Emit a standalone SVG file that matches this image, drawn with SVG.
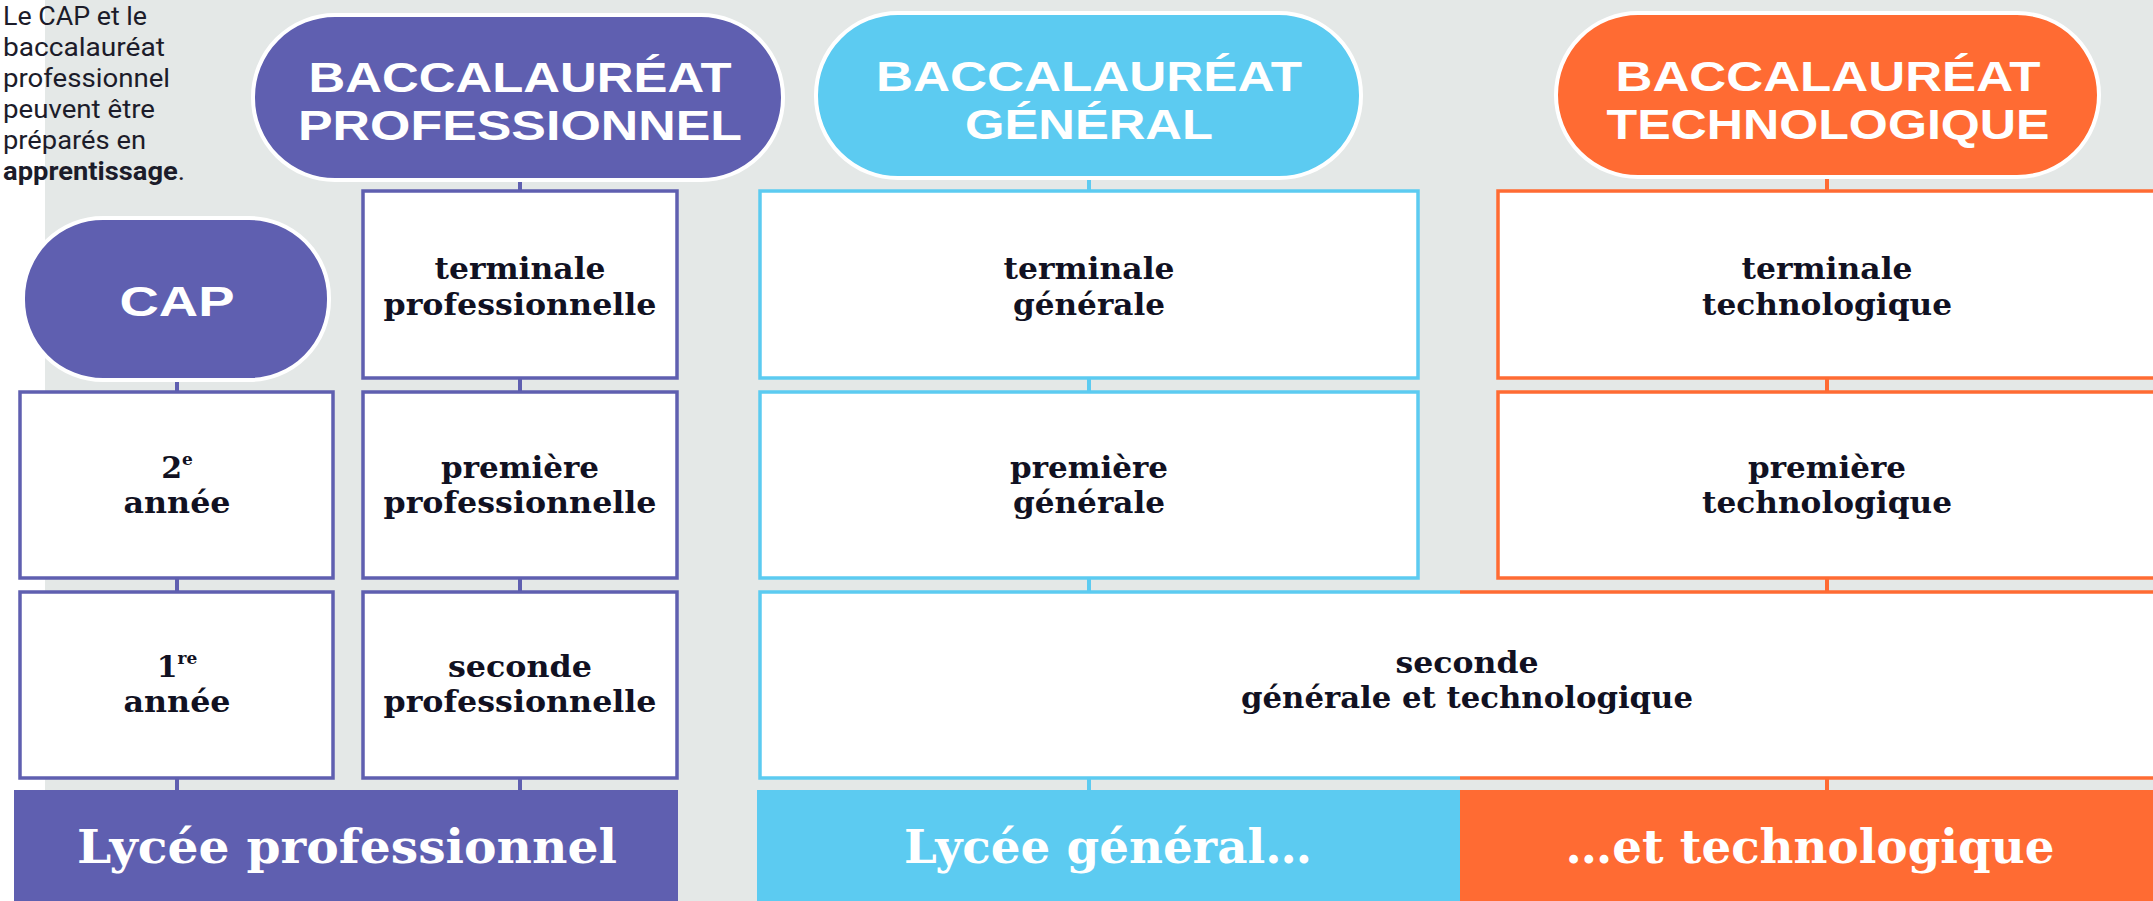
<svg xmlns="http://www.w3.org/2000/svg" width="2153" height="901" viewBox="0 0 2153 901">
<style>
.pill-t{font-family:"Liberation Sans",Arial,sans-serif;font-weight:bold;font-size:42px;fill:#ffffff;text-anchor:middle}
.box-t{font-family:"DejaVu Serif",serif;font-weight:bold;font-size:30px;fill:#111122;text-anchor:middle}
.bar-t{font-family:"DejaVu Serif",serif;font-weight:bold;font-size:46px;fill:#ffffff;text-anchor:middle}
.note{font-family:Roboto,"Liberation Sans",sans-serif;font-size:26px;fill:#1c1c2a}
.box{fill:#ffffff;stroke-width:3.5}
.pu{stroke:#5f5fb0}
.bl{stroke:#5ccbf1}
.or{stroke:#ff6b33}
.pill{stroke:#ffffff;stroke-width:4}
.con line{stroke-width:4}
</style>
<rect x="0" y="0" width="2153" height="901" fill="#ffffff"/>
<rect x="45" y="0" width="2108" height="901" fill="#e4e8e7"/>

<g id="note">
<text class="note" x="3" y="25" textLength="144" lengthAdjust="spacingAndGlyphs">Le CAP et le</text>
<text class="note" x="3" y="56" textLength="162" lengthAdjust="spacingAndGlyphs">baccalauréat</text>
<text class="note" x="3" y="87" textLength="167" lengthAdjust="spacingAndGlyphs">professionnel</text>
<text class="note" x="3" y="118" textLength="152" lengthAdjust="spacingAndGlyphs">peuvent être</text>
<text class="note" x="3" y="149" textLength="143" lengthAdjust="spacingAndGlyphs">préparés en</text>
<text class="note" x="3" y="180" textLength="182" lengthAdjust="spacingAndGlyphs"><tspan font-weight="bold">apprentissage</tspan>.</text>
</g>

<g id="connectors" class="con">
<line x1="177" y1="380" x2="177" y2="392" stroke="#5f5fb0"/>
<line x1="177" y1="578" x2="177" y2="592" stroke="#5f5fb0"/>
<line x1="177" y1="778" x2="177" y2="790" stroke="#5f5fb0"/>
<line x1="520" y1="180" x2="520" y2="191" stroke="#5f5fb0"/>
<line x1="520" y1="378" x2="520" y2="392" stroke="#5f5fb0"/>
<line x1="520" y1="578" x2="520" y2="592" stroke="#5f5fb0"/>
<line x1="520" y1="778" x2="520" y2="790" stroke="#5f5fb0"/>
<line x1="1089" y1="178" x2="1089" y2="191" stroke="#5ccbf1"/>
<line x1="1089" y1="378" x2="1089" y2="392" stroke="#5ccbf1"/>
<line x1="1089" y1="578" x2="1089" y2="592" stroke="#5ccbf1"/>
<line x1="1089" y1="778" x2="1089" y2="790" stroke="#5ccbf1"/>
<line x1="1827" y1="177" x2="1827" y2="191" stroke="#ff6b33"/>
<line x1="1827" y1="378" x2="1827" y2="392" stroke="#ff6b33"/>
<line x1="1827" y1="578" x2="1827" y2="592" stroke="#ff6b33"/>
<line x1="1827" y1="778" x2="1827" y2="790" stroke="#ff6b33"/>
</g>

<g id="bac-pro">
<rect class="pill" x="253" y="15" width="530" height="165" rx="82" fill="#5f5fb0"/>
<text class="pill-t" x="520" y="92" textLength="423" lengthAdjust="spacingAndGlyphs">BACCALAURÉAT</text>
<text class="pill-t" x="520" y="140" textLength="444" lengthAdjust="spacingAndGlyphs">PROFESSIONNEL</text>
</g>
<g id="bac-gen">
<rect class="pill" x="816" y="13" width="545" height="165" rx="82" fill="#5ccbf1"/>
<text class="pill-t" x="1089" y="91" textLength="426" lengthAdjust="spacingAndGlyphs">BACCALAURÉAT</text>
<text class="pill-t" x="1089" y="139" textLength="248" lengthAdjust="spacingAndGlyphs">GÉNÉRAL</text>
</g>
<g id="bac-techno">
<rect class="pill" x="1556" y="13" width="543" height="164" rx="82" fill="#ff6b33"/>
<text class="pill-t" x="1828" y="91" textLength="425" lengthAdjust="spacingAndGlyphs">BACCALAURÉAT</text>
<text class="pill-t" x="1828" y="139" textLength="443" lengthAdjust="spacingAndGlyphs">TECHNOLOGIQUE</text>
</g>
<g id="cap">
<rect class="pill" x="23" y="218" width="306" height="162" rx="80" fill="#5f5fb0"/>
<text class="pill-t" x="177" y="316" textLength="115" lengthAdjust="spacingAndGlyphs">CAP</text>
</g>

<g id="cap-2e">
<rect class="box pu" x="20" y="392" width="313" height="186"/>
<text class="box-t" x="177" y="478">2<tspan font-size="17" dy="-13">e</tspan></text>
<text class="box-t" x="177" y="513" textLength="107" lengthAdjust="spacingAndGlyphs">année</text>
</g>
<g id="cap-1re">
<rect class="box pu" x="20" y="592" width="313" height="186"/>
<text class="box-t" x="177" y="677">1<tspan font-size="17" dy="-13">re</tspan></text>
<text class="box-t" x="177" y="712" textLength="107" lengthAdjust="spacingAndGlyphs">année</text>
</g>

<g id="terminale-pro">
<rect class="box pu" x="363" y="191" width="314" height="187"/>
<text class="box-t" x="520" y="279" textLength="171" lengthAdjust="spacingAndGlyphs">terminale</text>
<text class="box-t" x="520" y="315" textLength="273" lengthAdjust="spacingAndGlyphs">professionnelle</text>
</g>
<g id="premiere-pro">
<rect class="box pu" x="363" y="392" width="314" height="186"/>
<text class="box-t" x="520" y="478" textLength="158" lengthAdjust="spacingAndGlyphs">première</text>
<text class="box-t" x="520" y="513" textLength="273" lengthAdjust="spacingAndGlyphs">professionnelle</text>
</g>
<g id="seconde-pro">
<rect class="box pu" x="363" y="592" width="314" height="186"/>
<text class="box-t" x="520" y="677" textLength="144" lengthAdjust="spacingAndGlyphs">seconde</text>
<text class="box-t" x="520" y="712" textLength="273" lengthAdjust="spacingAndGlyphs">professionnelle</text>
</g>

<g id="terminale-gen">
<rect class="box bl" x="760" y="191" width="658" height="187"/>
<text class="box-t" x="1089" y="279" textLength="171" lengthAdjust="spacingAndGlyphs">terminale</text>
<text class="box-t" x="1089" y="315" textLength="152" lengthAdjust="spacingAndGlyphs">générale</text>
</g>
<g id="premiere-gen">
<rect class="box bl" x="760" y="392" width="658" height="186"/>
<text class="box-t" x="1089" y="478" textLength="158" lengthAdjust="spacingAndGlyphs">première</text>
<text class="box-t" x="1089" y="513" textLength="152" lengthAdjust="spacingAndGlyphs">générale</text>
</g>

<g id="terminale-techno">
<rect class="box or" x="1498" y="191" width="670" height="187"/>
<text class="box-t" x="1827" y="279" textLength="171" lengthAdjust="spacingAndGlyphs">terminale</text>
<text class="box-t" x="1827" y="315" textLength="250" lengthAdjust="spacingAndGlyphs">technologique</text>
</g>
<g id="premiere-techno">
<rect class="box or" x="1498" y="392" width="670" height="186"/>
<text class="box-t" x="1827" y="478" textLength="158" lengthAdjust="spacingAndGlyphs">première</text>
<text class="box-t" x="1827" y="513" textLength="250" lengthAdjust="spacingAndGlyphs">technologique</text>
</g>

<g id="seconde-gt">
<rect x="760" y="592" width="1410" height="186" fill="#ffffff"/>
<path d="M1460 592 H760 V778 H1460" fill="none" stroke="#5ccbf1" stroke-width="3.5"/>
<path d="M1460 592 H2170 M1460 778 H2170" fill="none" stroke="#ff6b33" stroke-width="3.5"/>
<text class="box-t" x="1467" y="673" textLength="143" lengthAdjust="spacingAndGlyphs">seconde</text>
<text class="box-t" x="1467" y="708" textLength="452" lengthAdjust="spacingAndGlyphs">générale et technologique</text>
</g>

<g id="lycee-pro">
<rect x="14" y="790" width="664" height="111" fill="#5f5fb0"/>
<text class="bar-t" x="347" y="863" textLength="540" lengthAdjust="spacingAndGlyphs">Lycée professionnel</text>
</g>
<g id="lycee-gen">
<rect x="757" y="790" width="703" height="111" fill="#5ccbf1"/>
<text class="bar-t" x="1108" y="863" textLength="408" lengthAdjust="spacingAndGlyphs">Lycée général…</text>
</g>
<g id="lycee-techno">
<rect x="1460" y="790" width="693" height="111" fill="#ff6b33"/>
<text class="bar-t" x="1810" y="863" textLength="489" lengthAdjust="spacingAndGlyphs">…et technologique</text>
</g>
</svg>
